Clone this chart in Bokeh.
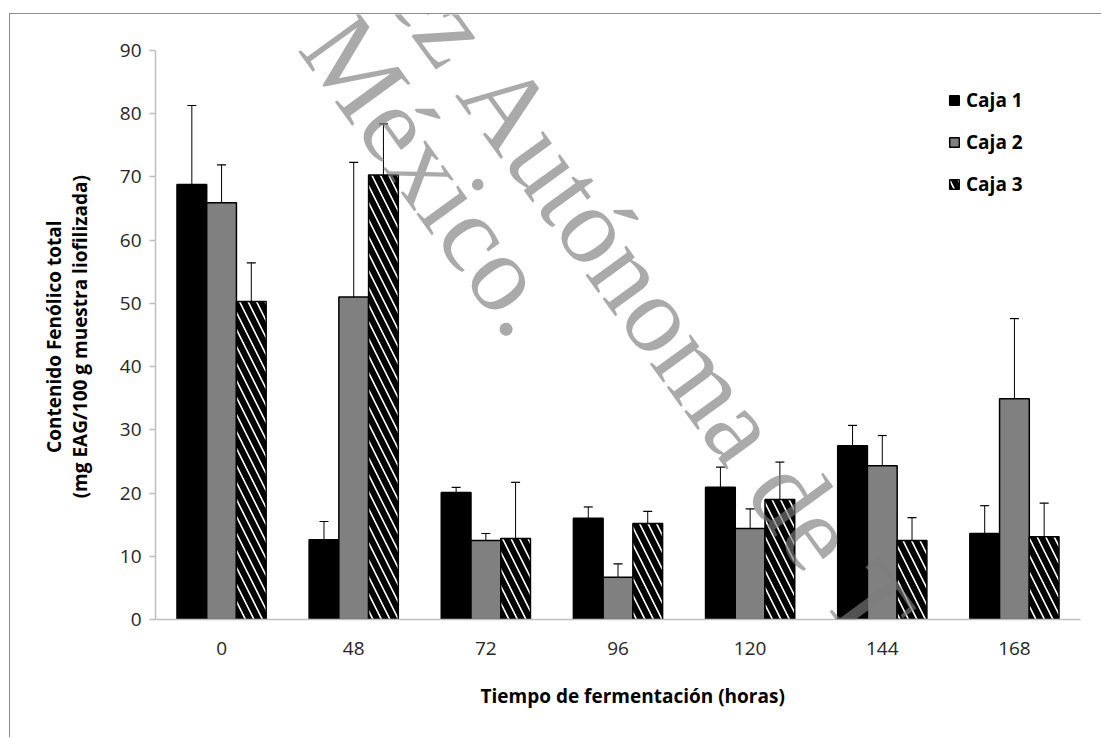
import math
from bokeh.plotting import figure
from bokeh.models import (ColumnDataSource, FactorRange, Range1d, Label, Legend,
                          LegendItem, Title)
from bokeh.transform import dodge
from bokeh.embed import file_html
from bokeh.resources import INLINE

# ---------------- data ----------------
horas = ["0", "48", "72", "96", "120", "144", "168"]
caja1 = [68.8, 12.6, 20.1, 16.0, 20.9, 27.5, 13.6]
caja1_err = [12.5, 2.9, 0.8, 1.8, 3.2, 3.2, 4.4]
caja2 = [65.9, 51.0, 12.5, 6.7, 14.4, 24.3, 34.9]
caja2_err = [6.0, 21.3, 1.1, 2.1, 3.1, 4.8, 12.7]
caja3 = [50.3, 70.3, 12.8, 15.2, 19.0, 12.5, 13.1]
caja3_err = [6.1, 8.1, 8.9, 1.9, 5.9, 3.6, 5.3]
series_names = ["Caja 1", "Caja 2", "Caja 3"]
y_ticks = [0, 10, 20, 30, 40, 50, 60, 70, 80, 90]
y_max = 90
x_title = "Tiempo de fermentación (horas)"
y_title_1 = "Contenido Fenólico total"
y_title_2 = "(mg EAG/100 g muestra liofilizada)"

# ---------------- layout (absolute window px) ----------------
W, H = 1102, 738
OX, OY = 10, 14            # figure origin inside the window (after margin + border)
FL, FR, FT, FB = 155, 1080, 50, 619   # where 0..7 / 0..90 of the axes sit
PW, PH = W - OX, H - OY

src = ColumnDataSource(dict(
    hora=horas,
    c1=caja1, c2=caja2, c3=caja3,
    t1=[v + e for v, e in zip(caja1, caja1_err)],
    t2=[v + e for v, e in zip(caja2, caja2_err)],
    t3=[v + e for v, e in zip(caja3, caja3_err)],
))

y_top = y_max * (FB - OY) / (FB - FT)   # frame reaches the top of the figure
p = figure(width=PW, height=PH, x_range=FactorRange(factors=horas, range_padding=0),
           y_range=Range1d(0, y_top), output_backend="svg", toolbar_location=None,
           min_border_left=FL - OX, min_border_right=W - FR, min_border_top=0,
           min_border_bottom=H - FB)
p.margin = (OY - 1, 0, 0, OX - 1)
p.styles = {"border-top": "1px solid #8c8c8c", "border-left": "1px solid #8c8c8c"}
p.xgrid.visible = False
p.ygrid.visible = False
p.outline_line_color = None
p.background_fill_color = "white"
p.border_fill_color = "white"

FONT = "Open Sans"
for ax in (p.xaxis, p.yaxis):
    ax.axis_line_color = "#bfbfbf"
    ax.axis_line_width = 1.5
    ax.major_label_text_font = FONT
    ax.major_label_text_font_size = "19px"
    ax.major_label_text_color = "#262626"
    ax.minor_tick_line_color = None
    ax.axis_label_text_font = FONT
    ax.axis_label_text_font_style = "bold"
    ax.axis_label_text_font_size = "19px"
    ax.axis_label_text_color = "black"

p.yaxis.ticker = y_ticks
p.yaxis.bounds = (0, y_max)
p.yaxis.major_tick_line_color = "#bfbfbf"
p.yaxis.major_tick_line_width = 1.5
p.yaxis.major_tick_out = 6
p.yaxis.major_tick_in = 0
p.yaxis.major_label_standoff = 8
# the frame runs to the figure top, so pad the label ends (non-breaking spaces)
# to keep the title centred on the 0-90 span of the axis
pad = "\u00a0" * 8
p.yaxis.axis_label = f"{y_title_1}{pad}\n{y_title_2}{pad}"
p.yaxis.axis_label_text_line_height = 1.0
p.yaxis.axis_label_standoff = 24

p.xaxis.major_tick_line_color = None
p.xaxis.major_tick_out = 0
p.xaxis.major_tick_in = 0
p.xaxis.major_label_standoff = 22

TT = dict(text_font=FONT, text_font_style="bold", text_font_size="19px",
          text_color="black", align="left")
# x title: starts at window x=480
p.add_layout(Title(text=x_title, offset=480 - FL, standoff=46, **TT), "below")

BW = 0.225
offs = [-BW, 0.0, BW]
vals = ["c1", "c2", "c3"]
tops = ["t1", "t2", "t3"]
styles = [
    dict(fill_color="black"),
    dict(fill_color="#808080"),
    dict(fill_color="white", hatch_pattern="\\", hatch_color="black",
         hatch_scale=17, hatch_weight=6),
]
renderers = []
for off, v, t, st in zip(offs, vals, tops, styles):
    xd = dodge("hora", off, range=p.x_range)
    r = p.vbar(x=xd, top=v, width=BW, source=src, line_color="black",
               line_width=1.5, **st)
    renderers.append(r)
    p.segment(x0=xd, y0=v, x1=xd, y1=t, source=src, line_color="black",
              line_width=1)
    p.scatter(x=xd, y=t, marker="dash", size=9, line_color="black",
              line_width=1.2, source=src)

legend = Legend(items=[LegendItem(label=n, renderers=[r])
                       for n, r in zip(series_names, renderers)],
                location=(948 - FL, FB - 197), orientation="vertical",
                label_text_font=FONT, label_text_font_style="bold",
                label_text_font_size="19px", label_text_color="black",
                glyph_width=12, glyph_height=12, label_height=26,
                spacing=16, padding=0, margin=0, label_standoff=6,
                border_line_color=None, background_fill_alpha=0)
p.add_layout(legend)


def dx(px):
    return (px - FL) / (FR - FL) * len(horas)


def dy(py):
    return (FB - py) / (FB - FT) * y_max


# watermark (scan artefact of the source page)
F = 110
ang = math.radians(54)
dirx, diry = math.cos(ang), math.sin(ang)
ax0, ay0 = 484, 73        # baseline start of "Autónoma"
mx0, my0 = 326, 27        # baseline start of "México."
WM = dict(text_font="Liberation Serif", text_font_size=f"{F}px",
          text_color="#7c7c7c", text_alpha=0.65, angle=-ang,
          text_baseline="alphabetic")
p.add_layout(Label(x=dx(mx0), y=dy(my0), text="México.", text_align="left", **WM))
p.add_layout(Label(x=dx(ax0), y=dy(ay0), text="Autónoma de Tabasco.",
                   text_align="left", **WM))
sp = 0.25 * F
p.add_layout(Label(x=dx(ax0 - sp * dirx), y=dy(ay0 - sp * diry),
                   text="Universidad Juárez", text_align="right", **WM))

open("out.html", "w").write(file_html(p, INLINE))
